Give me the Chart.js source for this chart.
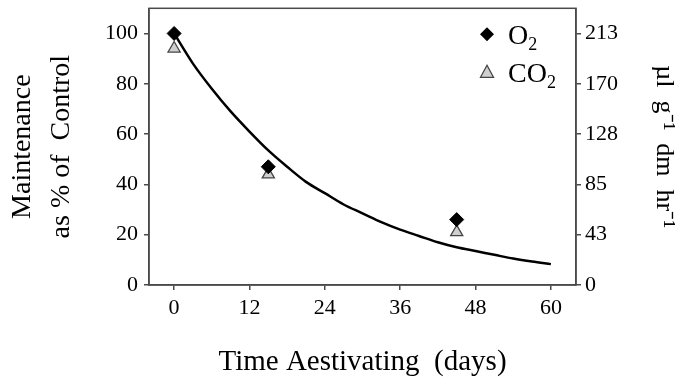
<!DOCTYPE html>
<html>
<head>
<meta charset="utf-8">
<script src="https://cdn.jsdelivr.net/npm/chart.js@4"></script>
<style>
  html, body { margin: 0; padding: 0; background: #fff; }
  #wrap { width: 679px; height: 383px; }
</style>
</head>
<body>
<div id="wrap"><canvas id="chart"></canvas></div>
<script>
// --- DATA ---
const days = [0, 15, 45];
const o2Values = [100, 47, 26];
const co2Values = [94, 44, 21];

// fitted curve
const curveDays = [0, 3, 6, 9, 12, 15, 18, 21, 24, 27, 30, 33, 36, 39, 42, 45, 48, 51, 54, 57, 60];
const curveValues = [100, 88, 78, 69, 61, 53.5, 47, 41, 36.5, 32, 28.5, 25, 22, 19.5, 17, 15, 13.5, 12, 10.5, 9.3, 8.3];

const xTicks = [0, 12, 24, 36, 48, 60];
const yTicks = [0, 20, 40, 60, 80, 100];
const rightTickLabels = ['0', '43', '85', '128', '170', '213'];

const serif = '"Liberation Serif", "Times New Roman", serif';
const axisColor = '#4a4a4a';

function toPoints(xs, ys) {
    return xs.map((x, i) => ({ x: x, y: ys[i] }));
}

// fixed scale sizes so the plot box lands where the original has it
function fixVertical(width) {
    return s => {
        s.width = width;
        s.paddingTop = 0;
        s.paddingBottom = 0;
    };
}

// box around the plot area
const frame = {
    id: 'frame',
    afterDatasetsDraw(chart) {
        const a = chart.chartArea;
        const ctx = chart.ctx;
        ctx.save();
        ctx.strokeStyle = axisColor;
        ctx.lineWidth = 1.5;
        ctx.strokeRect(a.left, a.top, a.right - a.left, a.bottom - a.top);
        ctx.restore();
    }
};

// legend with subscripts, top right inside the plot
const subLegend = {
    id: 'subLegend',
    afterDraw(chart) {
        const a = chart.chartArea;
        const ctx = chart.ctx;
        const mx = a.right - 89;
        const tx = a.right - 68;
        const rows = [
            { y: a.top + 26, base: 'O', marker: 'diamond' },
            { y: a.top + 64, base: 'CO', marker: 'triangle' }
        ];
        ctx.save();
        rows.forEach(r => {
            if (r.marker === 'diamond') {
                ctx.beginPath();
                ctx.moveTo(mx, r.y - 7);
                ctx.lineTo(mx + 7, r.y);
                ctx.lineTo(mx, r.y + 7);
                ctx.lineTo(mx - 7, r.y);
                ctx.closePath();
                ctx.fillStyle = '#000';
                ctx.fill();
            } else {
                ctx.beginPath();
                ctx.moveTo(mx, r.y - 7);
                ctx.lineTo(mx + 6.5, r.y + 5);
                ctx.lineTo(mx - 6.5, r.y + 5);
                ctx.closePath();
                ctx.fillStyle = '#cfcfcf';
                ctx.fill();
                ctx.strokeStyle = '#444';
                ctx.lineWidth = 1.3;
                ctx.stroke();
            }
            ctx.fillStyle = '#000';
            ctx.textBaseline = 'alphabetic';
            ctx.textAlign = 'left';
            ctx.font = '28px ' + serif;
            ctx.fillText(r.base, tx, r.y + 10);
            const w = ctx.measureText(r.base).width;
            ctx.font = '18px ' + serif;
            ctx.fillText('2', tx + w, r.y + 16);
        });
        ctx.restore();
    }
};

new Chart(document.getElementById('chart'), {
    type: 'scatter',
    data: {
        datasets: [
            {
                label: 'fit',
                data: toPoints(curveDays, curveValues),
                showLine: true,
                borderColor: '#000',
                borderWidth: 2.5,
                pointRadius: 0,
                cubicInterpolationMode: 'monotone',
                order: 3
            },
            {
                label: 'CO2',
                data: toPoints(days, co2Values),
                pointStyle: 'triangle',
                pointRadius: 7,
                backgroundColor: '#cfcfcf',
                borderColor: '#444',
                borderWidth: 1.3,
                order: 2
            },
            {
                label: 'O2',
                data: toPoints(days, o2Values),
                pointStyle: 'rectRot',
                pointRadius: 7,
                backgroundColor: '#000',
                borderColor: '#000',
                borderWidth: 1,
                order: 1
            }
        ]
    },
    options: {
        responsive: true,
        maintainAspectRatio: false,
        animation: false,
        layout: { padding: { top: 5, left: 0, right: 0, bottom: 0 } },
        plugins: {
            legend: { display: false },
            tooltip: { enabled: false }
        },
        scales: {
            x: {
                type: 'linear',
                min: -4,
                max: 64,
                afterBuildTicks: s => { s.ticks = xTicks.map(v => ({ value: v })); },
                afterFit: s => { s.height = 98; s.paddingLeft = 0; s.paddingRight = 0; },
                grid: { drawOnChartArea: false, drawTicks: true, tickLength: 5, color: axisColor, lineWidth: 1.5 },
                border: { display: true, color: axisColor, width: 1.5 },
                ticks: { color: '#000', font: { family: serif, size: 22 }, padding: 5, maxRotation: 0 },
                title: {
                    display: true,
                    text: 'Time Aestivating  (days)',
                    color: '#000',
                    font: { family: serif, size: 29 },
                    padding: { top: 0, bottom: 3 }
                }
            },
            y: {
                position: 'left',
                min: 0,
                max: 110,
                afterBuildTicks: s => { s.ticks = yTicks.map(v => ({ value: v })); },
                afterFit: fixVertical(149),
                grid: { drawOnChartArea: false, drawTicks: true, tickLength: 5, color: axisColor, lineWidth: 1.5 },
                border: { display: true, color: axisColor, width: 1.5 },
                ticks: { color: '#000', font: { family: serif, size: 22 }, padding: 6 },
                title: {
                    display: true,
                    text: ['Maintenance', 'as % of  Control'],
                    color: '#000',
                    font: { family: serif, size: 28, lineHeight: 1.4 },
                    padding: { top: 3, bottom: 0 }
                }
            },
            y2: {
                position: 'right',
                min: 0,
                max: 110,
                afterBuildTicks: s => { s.ticks = yTicks.map(v => ({ value: v })); },
                afterFit: fixVertical(103),
                grid: { drawOnChartArea: false, drawTicks: true, tickLength: 5, color: axisColor, lineWidth: 1.5 },
                border: { display: true, color: axisColor, width: 1.5 },
                ticks: {
                    color: '#000',
                    font: { family: serif, size: 22 },
                    padding: 4,
                    callback: (v) => rightTickLabels[yTicks.indexOf(v)]
                },
                title: {
                    display: true,
                    text: 'µl  g⁻¹  dm  hr⁻¹',
                    color: '#000',
                    font: { family: serif, size: 26 },
                    padding: { top: 0, bottom: 0 }
                }
            }
        }
    },
    plugins: [frame, subLegend]
});
</script>
</body>
</html>
